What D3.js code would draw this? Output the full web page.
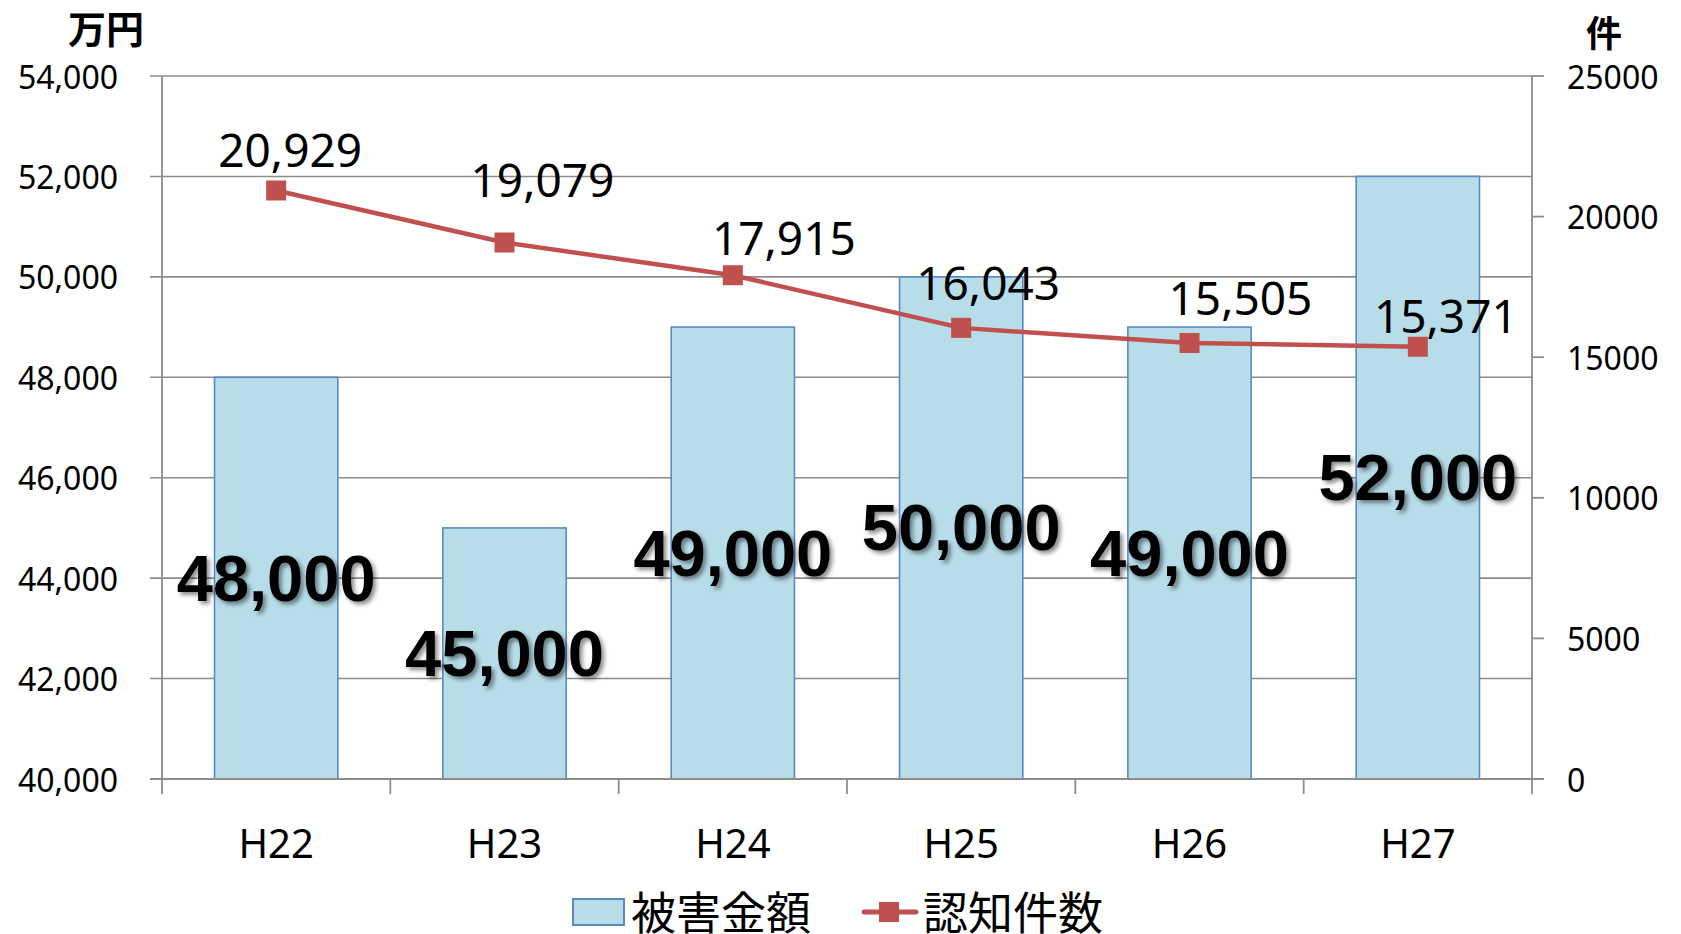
<!DOCTYPE html>
<html>
<head>
<meta charset="utf-8">
<script src="https://cdn.jsdelivr.net/npm/d3@7"></script>
<style>
	html, body { margin: 0; padding: 0; background: #fff; }
	svg { display: block; }
	text { font-family: "Noto Sans", "Open Sans", sans-serif; fill: #000; }
	.jp { font-family: "Noto Sans CJK JP", "Noto Sans", sans-serif; }
</style>
</head>
<body>
<svg id="chart" width="1681" height="934"></svg>
<script>
// --- data ---
var years = ["H22", "H23", "H24", "H25", "H26", "H27"];
var damage = [48000, 45000, 49000, 50000, 49000, 52000];   // 被害金額 (万円)
var cases = [20929, 19079, 17915, 16043, 15505, 15371];    // 認知件数 (件)
var leftTicks = [40000, 42000, 44000, 46000, 48000, 50000, 52000, 54000];
var rightTicks = [0, 5000, 10000, 15000, 20000, 25000];
var seriesNames = ["被害金額", "認知件数"];

// hand-moved data labels of the line (px), like in the original sheet
var lineLabelNudge = [[14, -23], [38, -45], [51, -20], [27, -28], [51, -28], [28, -14]];

(function () {
	var svg = d3.select("#chart")
		, pLeft = 162, pRight = 1532, pTop = 76, pBottom = 779
		, gridColor = "#8c8c8c"
		, barFill = "#b7dde8", barStroke = "#5a8ac6"
		, lineColor = "#c0504d";

	var x = d3.scaleBand().domain(years).range([pLeft, pRight]).paddingInner(0.46).paddingOuter(0.23);
	var xBand = d3.scaleBand().domain(years).range([pLeft, pRight]);
	var yL = d3.scaleLinear().domain([40000, 54000]).range([pBottom, pTop]);
	var yR = d3.scaleLinear().domain([0, 25000]).range([pBottom, pTop]);
	var fmt = d3.format(",");
	var cx = function (i) { return xBand(years[i]) + xBand.bandwidth() / 2; };

	// shadow for big bar labels
	svg.append("defs").append("filter").attr("id", "shadow")
		.attr("x", "-10%").attr("y", "-20%").attr("width", "130%").attr("height", "150%")
		.append("feDropShadow")
		.attr("dx", 3).attr("dy", 3).attr("stdDeviation", 2)
		.attr("flood-color", "#000").attr("flood-opacity", 0.45);

	// --- gridlines (left axis) ---
	svg.append("g").selectAll("line").data(leftTicks).enter().append("line")
		.attr("x1", pLeft - 12).attr("x2", pRight)
		.attr("y1", d => yL(d)).attr("y2", d => yL(d))
		.attr("stroke", gridColor).attr("stroke-width", 1.6);

	svg.append("g").selectAll("text").data(leftTicks).enter().append("text")
		.attr("x", 118).attr("y", d => yL(d))
		.attr("text-anchor", "end").attr("dominant-baseline", "central")
		.style("font-size", "32px")
		.text(d => fmt(d));

	// --- bars ---
	svg.append("g").selectAll("rect").data(damage).enter().append("rect")
		.attr("x", (d, i) => x(years[i]))
		.attr("width", x.bandwidth())
		.attr("y", d => yL(d))
		.attr("height", d => pBottom - yL(d))
		.attr("fill", barFill)
		.attr("stroke", barStroke).attr("stroke-width", 1.6);

	// --- axis lines ---
	var axisG = svg.append("g").attr("stroke", gridColor).attr("stroke-width", 1.8);
	axisG.append("line").attr("x1", pLeft).attr("x2", pLeft).attr("y1", pTop).attr("y2", pBottom + 15);
	axisG.append("line").attr("x1", pRight).attr("x2", pRight).attr("y1", pTop).attr("y2", pBottom + 15);
	axisG.append("line").attr("x1", pLeft - 12).attr("x2", pRight + 12).attr("y1", pBottom).attr("y2", pBottom);
	axisG.selectAll(".ct").data(years.slice(1)).enter().append("line")
		.attr("x1", d => xBand(d)).attr("x2", d => xBand(d))
		.attr("y1", pBottom).attr("y2", pBottom + 15);
	axisG.selectAll(".rt").data(rightTicks).enter().append("line")
		.attr("x1", pRight).attr("x2", pRight + 12)
		.attr("y1", d => yR(d)).attr("y2", d => yR(d));

	svg.append("g").selectAll("text").data(rightTicks).enter().append("text")
		.attr("x", 1567).attr("y", d => yR(d))
		.attr("dominant-baseline", "central")
		.style("font-size", "32px")
		.text(d => d);

	// x labels
	svg.append("g").selectAll("text").data(years).enter().append("text")
		.attr("x", (d, i) => cx(i)).attr("y", 842)
		.attr("text-anchor", "middle").attr("dominant-baseline", "central")
		.style("font-size", "40px")
		.text(d => d);

	// --- line ---
	var line = d3.line()
		.x((d, i) => cx(i))
		.y(d => yR(d));

	svg.append("path").datum(cases)
		.attr("d", line)
		.attr("fill", "none").attr("stroke", lineColor).attr("stroke-width", 4.5)
		.attr("stroke-linejoin", "round");

	svg.append("g").selectAll("rect").data(cases).enter().append("rect")
		.attr("x", (d, i) => cx(i) - 10)
		.attr("y", d => yR(d) - 10)
		.attr("width", 20).attr("height", 20)
		.attr("fill", lineColor);

	svg.append("g").selectAll("text").data(cases).enter().append("text")
		.attr("x", (d, i) => cx(i) + lineLabelNudge[i][0])
		.attr("y", (d, i) => yR(d) + lineLabelNudge[i][1])
		.attr("text-anchor", "middle")
		.style("font-size", "46px")
		.text(d => fmt(d));

	// --- big bar labels ---
	svg.append("g").selectAll("text").data(damage).enter().append("text")
		.attr("x", (d, i) => cx(i))
		.attr("y", d => (yL(d) + pBottom) / 2)
		.attr("text-anchor", "middle").attr("dominant-baseline", "central")
		.attr("filter", "url(#shadow)")
		.style("font-family", "'Liberation Sans', Arial, sans-serif")
		.style("font-weight", "bold")
		.style("font-size", "65px")
		.text(d => fmt(d));

	// --- axis units ---
	svg.append("text").attr("class", "jp")
		.attr("x", 68).attr("y", 26).attr("dominant-baseline", "central")
		.style("font-size", "38px").style("font-weight", "bold")
		.text("万円");
	svg.append("text").attr("class", "jp")
		.attr("x", 1586).attr("y", 31).attr("dominant-baseline", "central")
		.style("font-size", "36px").style("font-weight", "bold")
		.text("件");

	// --- legend ---
	var lg = svg.append("g");
	lg.append("rect").attr("x", 573).attr("y", 899).attr("width", 51).attr("height", 26)
		.attr("fill", barFill).attr("stroke", barStroke).attr("stroke-width", 2);
	lg.append("text").attr("class", "jp")
		.attr("x", 631).attr("y", 910).attr("dominant-baseline", "central")
		.style("font-size", "45px")
		.text(seriesNames[0]);
	lg.append("line").attr("x1", 864).attr("x2", 916).attr("y1", 912).attr("y2", 912)
		.attr("stroke", lineColor).attr("stroke-width", 5).attr("stroke-linecap", "round");
	lg.append("rect").attr("x", 879).attr("y", 902).attr("width", 20).attr("height", 20)
		.attr("fill", lineColor);
	lg.append("text").attr("class", "jp")
		.attr("x", 923).attr("y", 910).attr("dominant-baseline", "central")
		.style("font-size", "45px")
		.text(seriesNames[1]);
})();
</script>
</body>
</html>
